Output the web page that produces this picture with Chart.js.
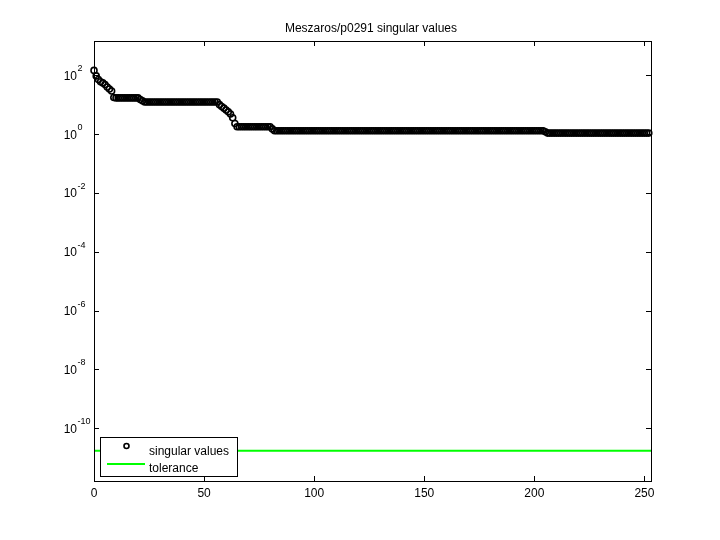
<!DOCTYPE html>
<html>
<head>
<meta charset="utf-8">
<title>Meszaros/p0291 singular values</title>
<script src="https://cdn.jsdelivr.net/npm/chart.js@4/dist/chart.umd.min.js"></script>
<style>
  html, body { margin: 0; padding: 0; background: #fff; }
  canvas { display: block; }
</style>
</head>
<body>
<canvas id="chart" width="720" height="540"></canvas>
<script>
"use strict";

const chartTitle = "Meszaros/p0291 singular values";
const legendLabels = ["singular values", "tolerance"];

// singular values, index 0..252
const singularValues = [
    146, 95, 72, 60, 55, 48, 40, 34, 29,
    17.5, 17, 17, 17, 17, 17, 17, 17, 17, 17, 17, 17,
    15, 13.5,
    12.3, 12.3, 12.3, 12.3, 12.3, 12.3, 12.3, 12.3, 12.3, 12.3,
    12.3, 12.3, 12.3, 12.3, 12.3, 12.3, 12.3, 12.3, 12.3, 12.3,
    12.3, 12.3, 12.3, 12.3, 12.3, 12.3, 12.3, 12.3, 12.3, 12.3,
    12.3, 12.3, 12.3, 12.3,
    10, 8.7, 7.6, 6.6, 5.7, 4.8, 3.6, 2.3,
    1.78, 1.78, 1.78, 1.78, 1.78, 1.78, 1.78, 1.78, 1.78, 1.78,
    1.78, 1.78, 1.78, 1.78, 1.78, 1.78,
    1.5,
    1.3, 1.3, 1.3, 1.3, 1.3, 1.3, 1.3, 1.3, 1.3, 1.3,
    1.3, 1.3, 1.3, 1.3, 1.3, 1.3, 1.3, 1.3, 1.3, 1.3,
    1.3, 1.3, 1.3, 1.3, 1.3, 1.3, 1.3, 1.3, 1.3, 1.3,
    1.3, 1.3, 1.3, 1.3, 1.3, 1.3, 1.3, 1.3, 1.3, 1.3,
    1.3, 1.3, 1.3, 1.3, 1.3, 1.3, 1.3, 1.3, 1.3, 1.3,
    1.3, 1.3, 1.3, 1.3, 1.3, 1.3, 1.3, 1.3, 1.3, 1.3,
    1.3, 1.3, 1.3, 1.3, 1.3, 1.3, 1.3, 1.3, 1.3, 1.3,
    1.3, 1.3, 1.3, 1.3, 1.3, 1.3, 1.3, 1.3, 1.3, 1.3,
    1.3, 1.3, 1.3, 1.3, 1.3, 1.3, 1.3, 1.3, 1.3, 1.3,
    1.3, 1.3, 1.3, 1.3, 1.3, 1.3, 1.3, 1.3, 1.3, 1.3,
    1.3, 1.3, 1.3, 1.3, 1.3, 1.3, 1.3, 1.3, 1.3, 1.3,
    1.3, 1.3, 1.3, 1.3, 1.3, 1.3, 1.3, 1.3, 1.3, 1.3,
    1.3, 1.3, 1.3,
    1.2,
    1.08, 1.08, 1.08, 1.08, 1.08, 1.08, 1.08, 1.08, 1.08, 1.08,
    1.08, 1.08, 1.08, 1.08, 1.08, 1.08, 1.08, 1.08, 1.08, 1.08,
    1.08, 1.08, 1.08, 1.08, 1.08, 1.08, 1.08, 1.08, 1.08, 1.08,
    1.08, 1.08, 1.08, 1.08, 1.08, 1.08, 1.08, 1.08, 1.08, 1.08,
    1.08, 1.08, 1.08, 1.08, 1.08, 1.08, 1.08
];
const tolerance = 1.7e-11;

const xLimits = [0, 253];
const yLimits = [1.6e-12, 1.46e3];
const xTicks = [0, 50, 100, 150, 200, 250];
const yTickExponents = [2, 0, -2, -4, -6, -8, -10];

const FONT = "\"Liberation Sans\", Arial, Helvetica, sans-serif";

const matlabAxes = {
    id: "matlabAxes",
    afterDraw(chart) {
        const { ctx, chartArea: a } = chart;
        const { x, y } = chart.scales;
        ctx.save();

        // axes box
        ctx.strokeStyle = "#000";
        ctx.lineWidth = 1;
        ctx.strokeRect(a.left + 0.5, a.top + 0.5, a.right - a.left, a.bottom - a.top);

        // inward ticks on all four sides
        ctx.beginPath();
        for (const v of xTicks) {
            const px = Math.round(x.getPixelForValue(v)) + 0.5;
            ctx.moveTo(px, a.bottom);
            ctx.lineTo(px, a.bottom - 5);
            ctx.moveTo(px, a.top);
            ctx.lineTo(px, a.top + 5);
        }
        for (const e of yTickExponents) {
            const py = Math.round(y.getPixelForValue(Math.pow(10, e))) + 0.5;
            ctx.moveTo(a.left, py);
            ctx.lineTo(a.left + 5, py);
            ctx.moveTo(a.right, py);
            ctx.lineTo(a.right - 5, py);
        }
        ctx.stroke();

        ctx.fillStyle = "#000";

        // x tick labels
        ctx.font = "12px " + FONT;
        ctx.textAlign = "center";
        ctx.textBaseline = "alphabetic";
        for (const v of xTicks) {
            ctx.fillText(String(v), x.getPixelForValue(v), a.bottom + 16);
        }

        // y tick labels 10^e
        for (const e of yTickExponents) {
            const py = y.getPixelForValue(Math.pow(10, e));
            ctx.font = "12px " + FONT;
            ctx.textAlign = "right";
            ctx.fillText("10", 77, py + 4.5);
            ctx.font = "9px " + FONT;
            ctx.textAlign = "left";
            ctx.fillText(String(e), 77.5, py - 4);
        }

        // title
        ctx.font = "12px " + FONT;
        ctx.textAlign = "center";
        ctx.fillText(chartTitle, 371, 31.5);

        // legend
        ctx.fillStyle = "#fff";
        ctx.fillRect(100.5, 437.5, 137, 39);
        ctx.strokeStyle = "#000";
        ctx.strokeRect(100.5, 437.5, 137, 39);

        ctx.beginPath();
        ctx.arc(126.5, 446, 2.5, 0, Math.PI * 2);
        ctx.lineWidth = 1.6;
        ctx.stroke();

        ctx.beginPath();
        ctx.moveTo(107, 464);
        ctx.lineTo(145, 464);
        ctx.strokeStyle = "#00ff00";
        ctx.lineWidth = 2;
        ctx.stroke();

        ctx.fillStyle = "#000";
        ctx.font = "12px " + FONT;
        ctx.textAlign = "left";
        ctx.fillText(legendLabels[0], 149, 454.5);
        ctx.fillText(legendLabels[1], 149, 471.5);

        ctx.restore();
    }
};

const ctx = document.getElementById("chart").getContext("2d");
new Chart(ctx, {
    type: "scatter",
    data: {
        datasets: [
            {
                label: legendLabels[0],
                data: singularValues.map((v, i) => ({ x: i, y: v })),
                showLine: false,
                pointStyle: "circle",
                pointRadius: 3,
                pointBorderWidth: 1.6,
                pointBorderColor: "#000",
                pointBackgroundColor: "rgba(0,0,0,0)",
                clip: false
            },
            {
                label: legendLabels[1],
                data: [{ x: xLimits[0], y: tolerance }, { x: xLimits[1], y: tolerance }],
                showLine: true,
                borderColor: "#00ff00",
                borderWidth: 2,
                pointRadius: 0
            }
        ]
    },
    options: {
        responsive: false,
        devicePixelRatio: 1,
        animation: false,
        layout: { padding: { left: 94, right: 69, top: 41, bottom: 59 } },
        plugins: {
            legend: { display: false },
            title: { display: false },
            tooltip: { enabled: false }
        },
        scales: {
            x: { type: "linear", min: xLimits[0], max: xLimits[1], display: false },
            y: { type: "logarithmic", min: yLimits[0], max: yLimits[1], display: false }
        }
    },
    plugins: [matlabAxes]
});
</script>
</body>
</html>
